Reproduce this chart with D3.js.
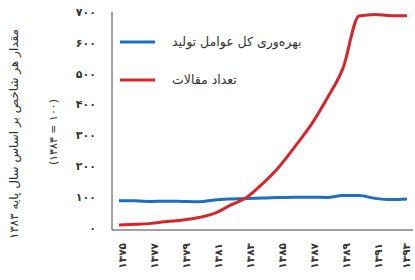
<!DOCTYPE html>
<html>
<head>
<meta charset="utf-8">
<script src="https://cdn.jsdelivr.net/npm/d3@7"></script>
<style>
  body { margin: 0; background: #fff; }
  text { font-family: "DejaVu Sans", sans-serif; fill: #333; }
</style>
</head>
<body>
<div id="chart-area"></div>
<script>
// داده‌ها
const years = [1375, 1376, 1377, 1378, 1379, 1380, 1381, 1382, 1383, 1384,
               1385, 1386, 1387, 1388, 1389, 1390, 1391, 1392, 1393];
const productivity = [88, 88, 86, 87, 86, 85, 91, 94, 96, 97,
                      99, 100, 100, 99, 105, 105, 96, 92, 94];
const articles = [10, 12, 15, 21, 26, 34, 48, 75, 100, 145,
                  198, 264, 334, 420, 518, 687, 692, 688, 688];
const yTicks = [0, 100, 200, 300, 400, 500, 600, 700];
const xTicks = [1375, 1377, 1379, 1381, 1383, 1385, 1387, 1389, 1391, 1393];
const legendLabels = ["بهره‌وری کل عوامل تولید", "تعداد مقالات"];
const yTitle = ["مقدار هر شاخص بر اساس سال پایه ۱۳۸۳", "(۱۳۸۳ = ۱۰۰)"];

const width = 415;
const height = 280;

const svg = d3.select("#chart-area")
    .append("svg")
    .attr("width", width)
    .attr("height", height);

// اعداد فارسی
const fa = n => String(n).replace(/\d/g, d => "۰۱۲۳۴۵۶۷۸۹"[d]);

const x = d3.scaleLinear().domain([1375, 1393]).range([119, 407]);
const y = d3.scaleLinear().domain([0, 700]).range([228, 12]);

// قاب محور
svg.append("path")
    .attr("d", "M112,12V230H413")
    .attr("fill", "none")
    .attr("stroke", "#444")
    .attr("stroke-width", 1);

// برچسب‌های محور عمودی
svg.selectAll(".ytick")
    .data(yTicks)
    .enter()
    .append("text")
    .attr("class", "ytick")
    .attr("x", 96)
    .attr("y", d => y(d))
    .attr("dy", "0.35em")
    .attr("text-anchor", "end")
    .attr("font-size", 11)
    .attr("font-weight", "bold")
    .text(d => fa(d));

// برچسب‌های محور افقی
svg.selectAll(".xtick")
    .data(xTicks)
    .enter()
    .append("text")
    .attr("class", "xtick")
    .attr("transform", d => `translate(${Math.min(x(d) + 3, 406)},243) rotate(-90)`)
    .attr("dy", "0.35em")
    .attr("text-anchor", "end")
    .attr("font-size", 10.5)
    .attr("font-weight", "bold")
    .text(d => fa(d));

// عنوان محور عمودی
svg.append("text")
    .attr("transform", "translate(14,134) rotate(-90)")
    .attr("dy", "0.35em")
    .attr("text-anchor", "middle")
    .attr("font-size", 12)
    .text(yTitle[0]);

svg.append("text")
    .attr("transform", "translate(53,132) rotate(-90)")
    .attr("dy", "0.35em")
    .attr("text-anchor", "middle")
    .attr("direction", "ltr")
    .attr("font-size", 11)
    .text(yTitle[1]);

// خطوط
const line = d3.line()
    .x(d => x(d[0]))
    .y(d => y(d[1]))
    .curve(d3.curveMonotoneX);

svg.append("path")
    .datum(years.map((d, i) => [d, productivity[i]]))
    .attr("d", line)
    .attr("fill", "none")
    .attr("stroke", "#1f6fbf")
    .attr("stroke-width", 3);

svg.append("path")
    .datum(years.map((d, i) => [d, articles[i]]))
    .attr("d", line)
    .attr("fill", "none")
    .attr("stroke", "#d7262b")
    .attr("stroke-width", 3);

// راهنما
const legendColors = ["#1f6fbf", "#d7262b"];
const legend = svg.selectAll(".legend")
    .data(legendLabels)
    .enter()
    .append("g")
    .attr("class", "legend")
    .attr("transform", (d, i) => `translate(0,${42 + i * 38})`);

legend.append("line")
    .attr("x1", 120)
    .attr("x2", 155)
    .attr("stroke", (d, i) => legendColors[i])
    .attr("stroke-width", 3);

legend.append("text")
    .attr("x", 172)
    .attr("dy", "0.35em")
    .attr("font-size", 12.5)
    .text(d => d);
</script>
</body>
</html>
